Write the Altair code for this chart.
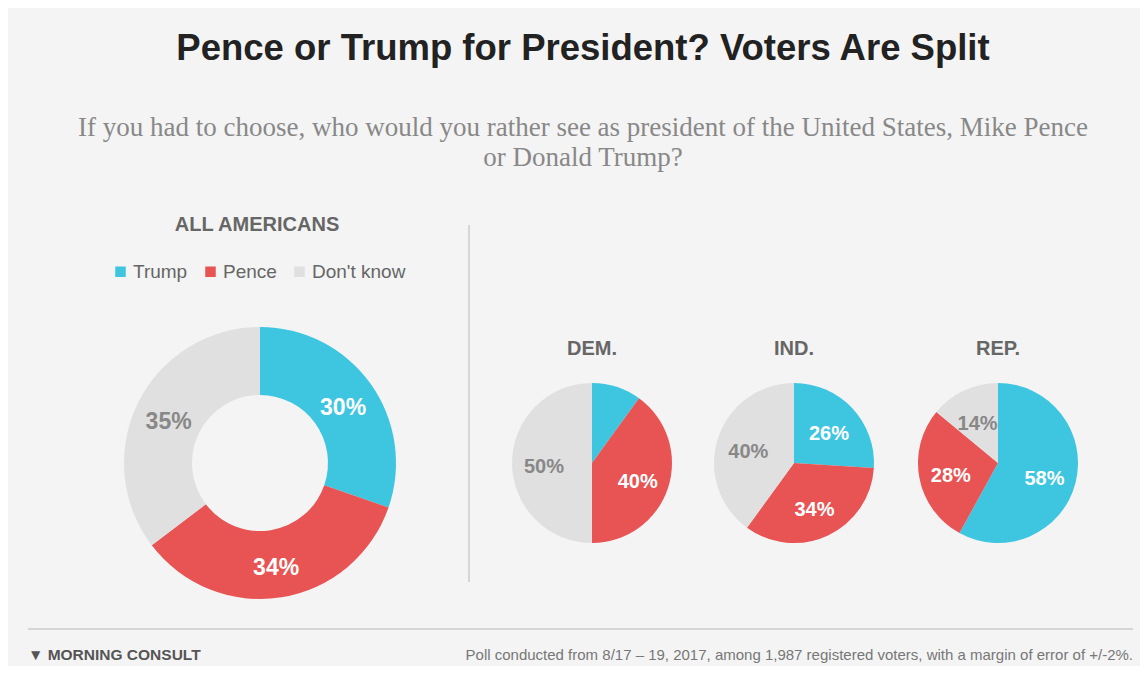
import altair as alt
import pandas as pd

cats = ["Trump", "Pence", "Don't know"]
colors = ["#3ec6e0", "#e85353", "#e0e0e0"]
all_vals = [30, 34, 35]
dem_vals = [10, 40, 50]
ind_vals = [26, 34, 40]
rep_vals = [58, 28, 14]
dem_labels = ["", "40%", "50%"]

def df(vals, labels=None):
    return pd.DataFrame({"cat": cats, "v": vals, "o": [0, 1, 2],
                         "lab": labels if labels else [f"{v}%" for v in vals]})

cscale = alt.Scale(domain=cats, range=colors)
FONT = "Liberation Sans"
OX, OY = -8, -8

def pie(vals, cx, cy, r, inner=0, lr=None, labels=None, fs=20, legend=False):
    d = df(vals, labels)
    base = alt.Chart(d).encode(
        theta=alt.Theta("v:Q", stack="normalize"),
        order=alt.Order("o:Q"),
    )
    leg = alt.Legend(orient="none", legendX=111 + OX, legendY=262 + OY, direction="horizontal",
                     title=None, symbolType="square", symbolSize=110,
                     labelFont=FONT, labelFontSize=19, labelColor="#666",
                     symbolStrokeWidth=0, columnPadding=13, labelOffset=3) if legend else None
    arc = base.mark_arc(x=cx + OX, y=cy + OY, outerRadius=r, innerRadius=inner).encode(
        color=alt.Color("cat:N", scale=cscale, legend=leg, sort=cats))
    txt = base.mark_text(x=cx + OX, y=cy + OY + 4, font=FONT, fontSize=fs, fontWeight="bold").encode(
        radius=alt.value(lr if lr else r * 0.6),
        text="lab:N",
        color=alt.condition("datum.cat == \"Don't know\"", alt.value("#888888"), alt.value("white")))
    return arc + txt

def label(txt, x, y, size, color="#333", weight="normal", font=FONT, align="center"):
    return alt.Chart(pd.DataFrame({"t": [txt]})).mark_text(
        x=x + OX, y=y + OY, fontSize=size, color=color, fontWeight=weight, font=font, align=align
    ).encode(text="t:N")

def rule(x, y, x2, y2, color="#cccccc"):
    return alt.Chart(pd.DataFrame({"a": [0]})).mark_rule(color=color, strokeWidth=1.5).encode(
        x=alt.value(x + OX), x2=alt.value(x2 + OX), y=alt.value(y + OY), y2=alt.value(y2 + OY))

layers = [
    label("Pence or Trump for President? Voters Are Split", 583, 49, 36.5, "#222", "bold"),
    label("If you had to choose, who would you rather see as president of the United States, Mike Pence", 583, 128, 27, "#888", font="Liberation Serif"),
    label("or Donald Trump?", 583, 158, 27, "#888", font="Liberation Serif"),
    label("ALL AMERICANS", 257, 225, 20, "#666", "bold"),
    label("DEM.", 592, 349, 20, "#666", "bold"),
    label("IND.", 794, 349, 20, "#666", "bold"),
    label("REP.", 998, 349, 20, "#666", "bold"),
    rule(469, 225, 469, 582),
    rule(28, 629, 1133, 629),
    pie(all_vals, 260, 463, 136, inner=68, lr=102, fs=23, legend=True),
    pie(dem_vals, 592, 463, 80, labels=dem_labels),
    pie(ind_vals, 794, 463, 80),
    pie(rep_vals, 998, 463, 80),
    label("▼ MORNING CONSULT", 28, 655, 15.5, "#555", "bold", align="left"),
    label("Poll conducted from 8/17 – 19, 2017, among 1,987 registered voters, with a margin of error of +/-2%.", 1133, 655, 15, "#777", align="right"),
]

chart = alt.layer(*layers).properties(
    width=1132, height=658, padding=0, background="#f4f4f4", autosize="none"
).configure_view(stroke=None)

chart.save("out.html", embed_options={"renderer": "svg", "actions": False})
